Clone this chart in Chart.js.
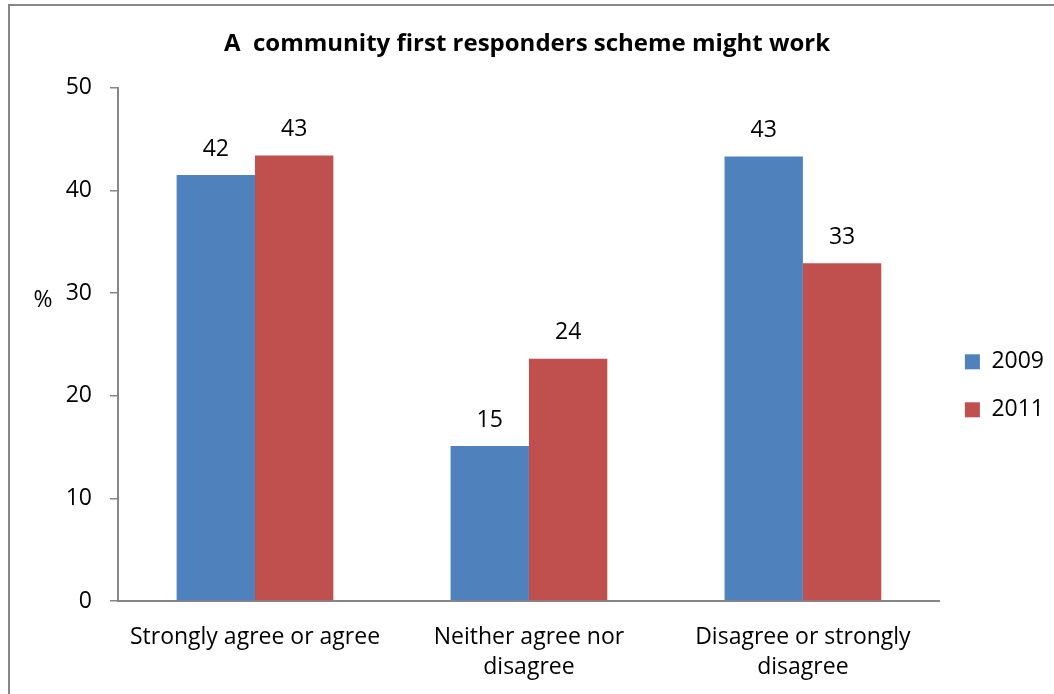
<!DOCTYPE html>
<html>
<head>
<meta charset="utf-8">
<script src="https://cdn.jsdelivr.net/npm/chart.js@4.4.1/dist/chart.umd.min.js"></script>
<style>
  html, body { margin: 0; padding: 0; background: #fff; overflow: hidden; }
  #wrap { position: relative; width: 1054px; height: 694px; }
  #frame {
    position: absolute; left: 8px; top: 4px; width: 1100px; height: 800px;
    border: 2px solid #878787; box-sizing: border-box; pointer-events: none;
  }
  #chart { position: absolute; left: 0; top: 0; }
</style>
</head>
<body>
<div id="wrap">
  <canvas id="chart" width="1054" height="694"></canvas>
  <div id="frame"></div>
</div>
<script>
const categories = [
  `Strongly agree or agree`,
  [`Neither agree nor`, `disagree`],
  [`Disagree or strongly`, `disagree`],
]
const years = [`2009`, `2011`]
const values2009 = [41.5, 15.1, 43.3]
const values2011 = [43.4, 23.6, 32.9]
const yTicks = [0, 10, 20, 30, 40, 50]

const FONT = `"Open Sans", sans-serif`
const SIZE = 23
const axisGrey = `#868686`

// labels above each bar (no datalabels plugin available offline)
const barLabels = {
  id: `barLabels`,
  afterDatasetsDraw(chart) {
    const { ctx } = chart
    ctx.save()
    ctx.font = `${SIZE}px ${FONT}`
    ctx.fillStyle = `#000`
    ctx.textAlign = `center`
    ctx.textBaseline = `middle`
    chart.data.datasets.forEach((ds, i) => {
      chart.getDatasetMeta(i).data.forEach((bar, j) => {
        ctx.fillText(Math.round(ds.data[j]), bar.x, bar.y - 26)
      })
    })
    ctx.restore()
  },
}

// horizontal "%" axis title
const yTitle = {
  id: `yTitle`,
  afterDraw(chart) {
    const { ctx } = chart
    const y = chart.scales.y
    ctx.save()
    ctx.font = `${SIZE}px ${FONT}`
    ctx.fillStyle = `#000`
    ctx.textAlign = `center`
    ctx.textBaseline = `middle`
    ctx.fillText(`%`, 43, y.getPixelForValue(29.3))
    ctx.restore()
  },
}

new Chart(document.querySelector(`#chart`), {
  type: `bar`,
  data: {
    labels: categories,
    datasets: [
      { label: years[0], data: values2009, backgroundColor: `#4f81bd` },
      { label: years[1], data: values2011, backgroundColor: `#c0504d` },
    ],
  },
  options: {
    responsive: false,
    animation: false,
    layout: { padding: { left: 0, right: 0, top: 0, bottom: 0 } },
    datasets: {
      bar: { barPercentage: 1, categoryPercentage: 0.572 },
    },
    scales: {
      x: {
        afterFit: (scale) => { scale.height = 93 },
        grid: { display: false },
        border: { display: true, color: axisGrey, width: 2 },
        ticks: {
          color: `#000`,
          font: { family: FONT, size: SIZE, lineHeight: 1.3 },
          padding: 14,
          maxRotation: 0,
        },
      },
      y: {
        min: 0,
        max: 50,
        afterFit: (scale) => { scale.width = 118 },
        afterBuildTicks: (scale) => {
          scale.ticks = yTicks.map((v) => ({ value: v }))
        },
        grid: {
          drawOnChartArea: false,
          drawTicks: true,
          tickLength: 8,
          color: axisGrey,
          lineWidth: 1.5,
        },
        border: { display: true, color: axisGrey, width: 2 },
        ticks: {
          color: `#000`,
          font: { family: FONT, size: SIZE },
          padding: 18,
        },
      },
    },
    plugins: {
      title: {
        display: true,
        text: `A  community first responders scheme might work`,
        color: `#000`,
        font: { family: FONT, size: 24, weight: `bold` },
        padding: { top: 30, bottom: 29 },
      },
      legend: {
        position: `right`,
        title: { display: true, text: ` `, padding: 25, font: { size: 23 } },
        labels: {
          color: `#000`,
          font: { family: FONT, size: SIZE },
          boxWidth: 15,
          boxHeight: 15,
          padding: 25,
        },
      },
      tooltip: { enabled: false },
    },
  },
  plugins: [barLabels, yTitle],
})
</script>
</body>
</html>
